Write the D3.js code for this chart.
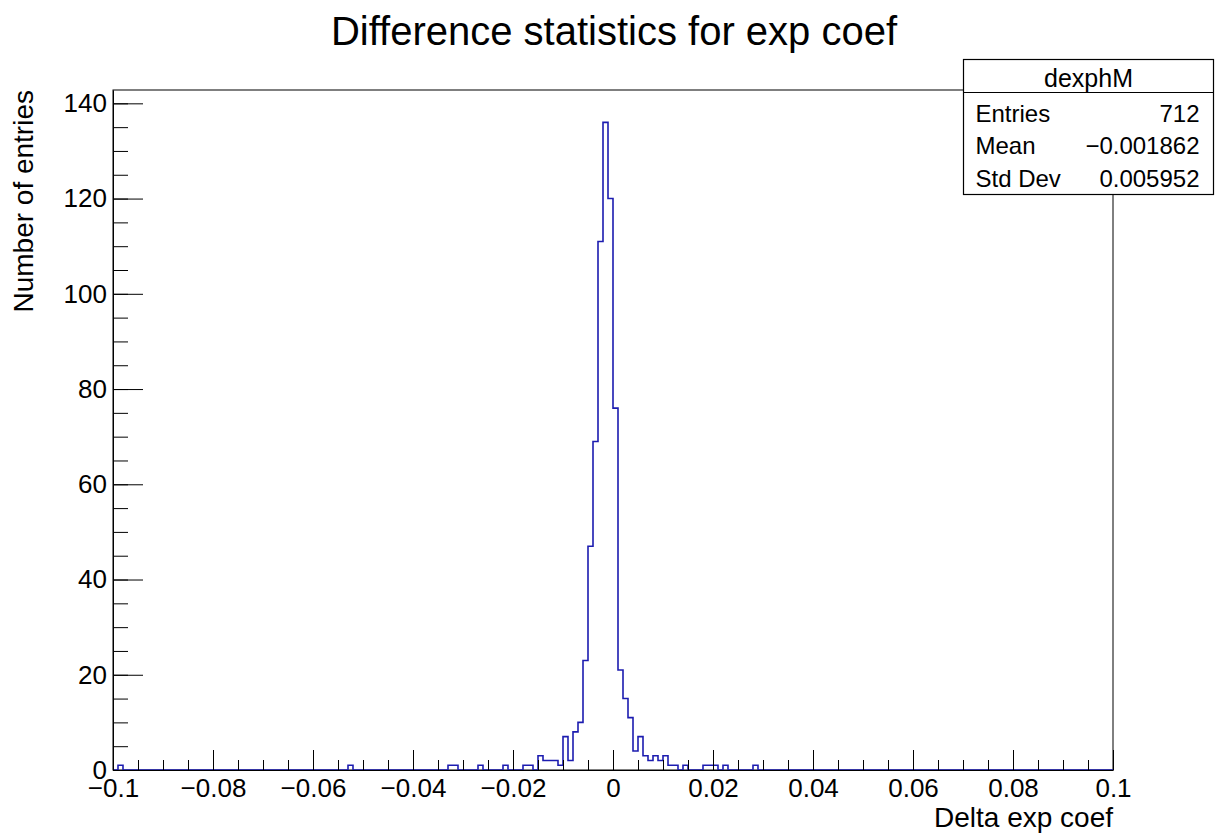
<!DOCTYPE html>
<html>
<head>
<meta charset="utf-8">
<script src="https://cdn.jsdelivr.net/npm/d3@7"></script>
<style>
  body { margin: 0; background: #fff; }
  text { font-family: "Liberation Sans", Arial, sans-serif; }
</style>
</head>
<body>
<div id="chart"></div>
<script>
// histogram binning
var xMin = -0.1, xMax = 0.1, nBins = 200;

// non-empty bins (bin index from the left) and their counts
var binIndex = [1, 47, 67, 68, 73, 78, 82, 83, 85, 86, 87, 88, 89, 90, 91, 92, 93,
                94, 95, 96, 97, 98, 99, 100, 101, 102, 103, 104, 105, 106, 107, 108,
                109, 110, 111, 112, 114, 118, 119, 120, 122, 128];
var binCount = [1, 1, 1, 1, 1, 1, 1, 1, 3, 2, 2, 2, 1, 7, 2, 8, 10,
                23, 47, 69, 111, 136, 120, 76, 21, 15, 11, 4, 7, 3, 2, 3,
                2, 3, 1, 1, 1, 1, 1, 1, 1, 1];

var xTicks = [-0.1, -0.08, -0.06, -0.04, -0.02, 0, 0.02, 0.04, 0.06, 0.08, 0.1];
var yTicks = [0, 20, 40, 60, 80, 100, 120, 140];

var statsName = "dexphM";
var statsLabels = ["Entries", "Mean", "Std Dev"];
var statsValues = ["712", "\u22120.001862", "0.005952"];

var margin = {top: 90, right: 109, bottom: 64, left: 113},
    width = 1222 - margin.left - margin.right,
    height = 834 - margin.top - margin.bottom;

var svg = d3.select("#chart").append("svg")
    .attr("width", 1222)
    .attr("height", 834);

var g = svg.append("g")
    .attr("transform", "translate(" + margin.left + "," + margin.top + ")");

var counts = d3.range(nBins).map(function() { return 0; });
binIndex.forEach(function(b, i) { counts[b] = binCount[i]; });
var binWidth = (xMax - xMin) / nBins;

var x = d3.scaleLinear().domain([xMin, xMax]).range([0, width]);
var y = d3.scaleLinear().domain([0, 1.05 * d3.max(counts)]).range([height, 0]);

// frame
g.append("rect")
    .attr("width", width)
    .attr("height", height)
    .attr("fill", "none")
    .attr("stroke", "#000")
    .attr("stroke-width", 1);

// histogram outline
var pts = [[xMin, 0]];
counts.forEach(function(c, i) { pts.push([xMin + i * binWidth, c]); });
pts.push([xMax, 0]);

var line = d3.line()
    .x(function(d) { return x(d[0]); })
    .y(function(d) { return y(d[1]); })
    .curve(d3.curveStepAfter);

g.append("path")
    .datum(pts)
    .attr("d", line)
    .attr("fill", "none")
    .attr("stroke", "#1c1cb0")
    .attr("stroke-width", 1.6);

// x axis: minor then major
g.append("g")
    .attr("transform", "translate(0," + height + ")")
    .call(d3.axisBottom(x).tickValues(d3.range(0, 41).map(function(i) { return xMin + i * 0.005; }))
        .tickSize(-10).tickFormat(""))
    .call(function(a) { a.select(".domain").remove(); });

var fmt = d3.format(".2~f");
var xAxis = g.append("g")
    .attr("transform", "translate(0," + height + ")")
    .call(d3.axisBottom(x).tickValues(xTicks).tickSize(-20).tickSizeOuter(0).tickPadding(9)
        .tickFormat(function(d) { return Math.abs(d) < 1e-9 ? "0" : fmt(d); }));
xAxis.selectAll("text").attr("font-size", 26).attr("fill", "#000")
    .style("font-family", "Liberation Sans, Arial, sans-serif");

// y axis: minor then major
g.append("g")
    .call(d3.axisLeft(y).tickValues(d3.range(0, 145, 5)).tickSize(-15).tickFormat(""))
    .call(function(a) { a.select(".domain").remove(); });

var yAxis = g.append("g")
    .call(d3.axisLeft(y).tickValues(yTicks).tickSize(-30).tickSizeOuter(0).tickPadding(6));
yAxis.selectAll("text").attr("font-size", 26).attr("fill", "#000")
    .style("font-family", "Liberation Sans, Arial, sans-serif");

g.selectAll(".tick line").attr("stroke", "#000");

// titles
svg.append("text")
    .attr("x", 614)
    .attr("y", 45)
    .attr("text-anchor", "middle")
    .attr("font-size", 40)
    .text("Difference statistics for exp coef");

svg.append("text")
    .attr("x", margin.left + width)
    .attr("y", 827)
    .attr("text-anchor", "end")
    .attr("font-size", 28)
    .text("Delta exp coef");

svg.append("text")
    .attr("transform", "translate(33," + margin.top + ") rotate(-90)")
    .attr("text-anchor", "end")
    .attr("font-size", 28)
    .text("Number of entries");

// stats box
var box = svg.append("g").attr("transform", "translate(963.5,59.5)");
box.append("rect")
    .attr("width", 250)
    .attr("height", 135)
    .attr("fill", "#fff")
    .attr("stroke", "#000")
    .attr("stroke-width", 1.2);
box.append("line")
    .attr("x1", 0).attr("x2", 250)
    .attr("y1", 33).attr("y2", 33)
    .attr("stroke", "#000")
    .attr("stroke-width", 1.2);
box.append("text")
    .attr("x", 125)
    .attr("y", 27)
    .attr("text-anchor", "middle")
    .attr("font-size", 25)
    .text(statsName);

var rowY = [62, 94, 127];
statsLabels.forEach(function(lab, i) {
  box.append("text")
      .attr("x", 12)
      .attr("y", rowY[i])
      .attr("font-size", 24)
      .text(lab);
  box.append("text")
      .attr("x", 236)
      .attr("y", rowY[i])
      .attr("text-anchor", "end")
      .attr("font-size", 24)
      .text(statsValues[i]);
});
</script>
</body>
</html>
